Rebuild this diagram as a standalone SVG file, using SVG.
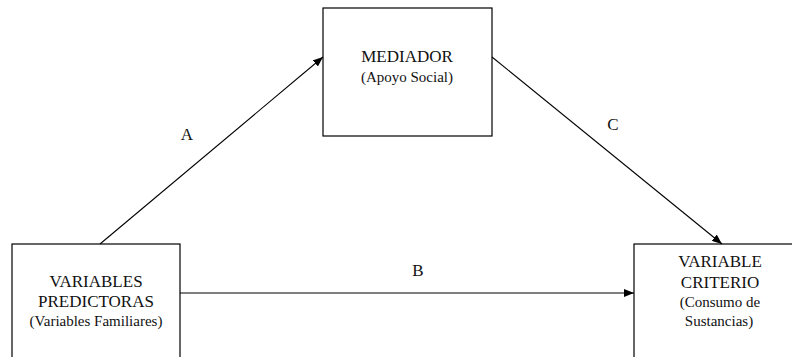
<svg xmlns="http://www.w3.org/2000/svg" width="792" height="357" viewBox="0 0 792 357">
<style>
.box{fill:#fff;stroke:#000;stroke-width:1.2}
.t{font-family:'Liberation Serif','DejaVu Serif',serif;fill:#111;text-anchor:middle}
.h{font-size:17px}
.s{font-size:15px}
.lbl{font-size:17px}
.edge{stroke:#000;stroke-width:1.1;fill:none}
</style>
<defs>
<marker id="ah" viewBox="0 0 10 8" refX="10" refY="4" markerWidth="10" markerHeight="8" markerUnits="userSpaceOnUse" orient="auto">
<path d="M0,0 L10,4 L0,8 Z" fill="#000"/>
</marker>
</defs>
<rect width="792" height="357" fill="#fff"/>
<g id="predictoras">
<rect class="box" x="12" y="244" width="168" height="130"/>
<text class="t h" font-family="Liberation Serif, serif" x="96" y="287">VARIABLES</text>
<text class="t h" font-family="Liberation Serif, serif" x="96" y="307">PREDICTORAS</text>
<text class="t s" font-family="Liberation Serif, serif" x="96" y="326">(Variables Familiares)</text>
</g>
<g id="mediador">
<rect class="box" x="323" y="8" width="169" height="128"/>
<text class="t h" font-family="Liberation Serif, serif" x="407" y="62">MEDIADOR</text>
<text class="t s" font-family="Liberation Serif, serif" x="407" y="82">(Apoyo Social)</text>
</g>
<g id="criterio">
<rect class="box" x="634" y="244" width="180" height="130"/>
<text class="t h" font-family="Liberation Serif, serif" x="720" y="267">VARIABLE</text>
<text class="t h" font-family="Liberation Serif, serif" x="720" y="288">CRITERIO</text>
<text class="t s" font-family="Liberation Serif, serif" x="720" y="307">(Consumo de</text>
<text class="t s" font-family="Liberation Serif, serif" x="719" y="326">Sustancias)</text>
</g>
<g id="connectors">
<line class="edge" x1="100" y1="244" x2="323" y2="57" marker-end="url(#ah)"/>
<line class="edge" x1="492" y1="57" x2="722" y2="244" marker-end="url(#ah)"/>
<line class="edge" x1="180" y1="293" x2="634" y2="293" marker-end="url(#ah)"/>
<text class="t lbl" font-family="Liberation Serif, serif" x="187" y="140">A</text>
<text class="t lbl" font-family="Liberation Serif, serif" x="418" y="276">B</text>
<text class="t lbl" font-family="Liberation Serif, serif" x="613" y="130">C</text>
</g>
</svg>
